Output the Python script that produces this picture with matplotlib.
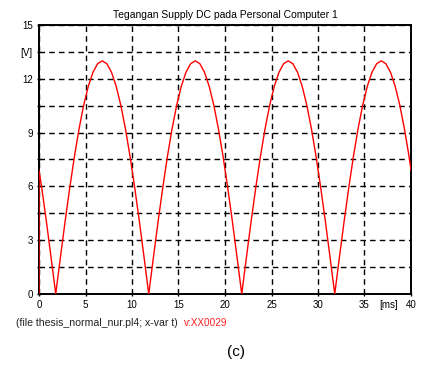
import matplotlib.pyplot as plt
import numpy as np

# rectified supply voltage [V], sampled every 0.5 ms starting at the first zero (t = 1.8 ms)
t_ms = np.concatenate(([0.0, 0.0], np.arange(0.3, 40.0, 0.5), [40.0]))
v_volt = [
    0.0, 6.9, 5.90, 4.02, 2.03,
    0.0, 2.03, 4.02, 5.90, 7.64, 9.19, 10.52, 11.58, 12.36, 12.84,
    13.0, 12.84, 12.36, 11.58, 10.52, 9.19, 7.64, 5.90, 4.02, 2.03,
    0.0, 2.03, 4.02, 5.90, 7.64, 9.19, 10.52, 11.58, 12.36, 12.84,
    13.0, 12.84, 12.36, 11.58, 10.52, 9.19, 7.64, 5.90, 4.02, 2.03,
    0.0, 2.03, 4.02, 5.90, 7.64, 9.19, 10.52, 11.58, 12.36, 12.84,
    13.0, 12.84, 12.36, 11.58, 10.52, 9.19, 7.64, 5.90, 4.02, 2.03,
    0.0, 2.03, 4.02, 5.90, 7.64, 9.19, 10.52, 11.58, 12.36, 12.84,
    13.0, 12.84, 12.36, 11.58, 10.52, 9.19, 7.64,
    6.9,
]

x_ticks = [0, 5, 10, 15, 20, 25, 30, 35, 40]
x_labels = ["0", "5", "10", "15", "20", "25", "30", "35", "40"]
y_ticks = [0, 1.5, 3, 4.5, 6, 7.5, 9, 10.5, 12, 13.5, 15]
y_labels = ["0", "", "3", "", "6", "", "9", "", "12", "[V]", "15"]

font = ["Liberation Sans Narrow", "Liberation Sans", "DejaVu Sans"]
plt.rcParams["font.family"] = font

fig = plt.figure(figsize=(4.21, 3.67), dpi=100)
ax = fig.add_axes([39 / 421, 1 - 294 / 367, 372 / 421, 269 / 367])

ax.plot(t_ms, v_volt, color="red", lw=1.0, zorder=3)

ax.set_xlim(0, 40)
ax.set_ylim(0, 15)
ax.set_xticks(x_ticks)
ax.set_xticklabels(x_labels)
ax.set_yticks(y_ticks)
ax.set_yticklabels(y_labels)
ax.tick_params(axis="both", labelsize=7, length=3, width=1, direction="inout",
               colors="black", pad=3)
for s in ax.spines.values():
    s.set_linewidth(1.4)

ax.grid(True, color="black", linestyle=(0, (4, 3)), lw=1.0)

ax.text(37.6, -0.35, "[ms]", fontsize=7, ha="center", va="top")
ax.set_title("Tegangan Supply DC pada Personal Computer 1", fontsize=7.5, pad=5)

fig.text(16 / 421, 1 - 323 / 367, "(file thesis_normal_nur.pl4; x-var t)",
         fontsize=7.6, va="center", ha="left", color="#222222")
fig.text(184 / 421, 1 - 323 / 367, "v:XX0029", fontsize=7.2, va="center",
         ha="left", color="#ff2020")
fig.text(236 / 421, 1 - 352 / 367, "(c)", fontsize=11, va="center", ha="center")

fig.savefig("out.png", dpi=100)
